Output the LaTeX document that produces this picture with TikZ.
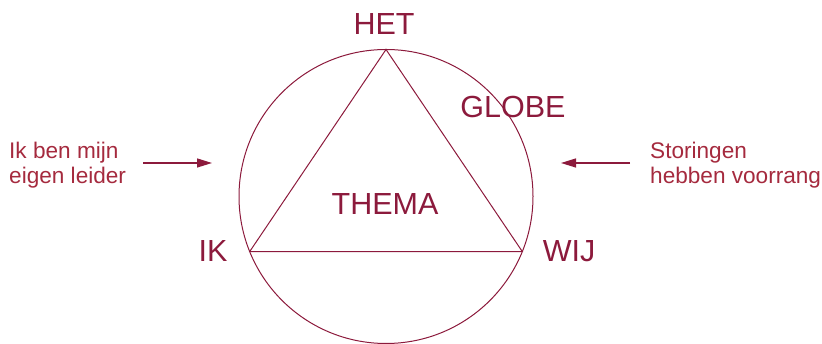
\documentclass[tikz,border=0pt]{standalone}
\usepackage{fontspec}
\setmainfont{Liberation Sans}
\usetikzlibrary{arrows.meta,calc}
\definecolor{bordeaux}{HTML}{8C1A3C}
\definecolor{rood}{HTML}{A52A3E}
\begin{document}
\begin{tikzpicture}[x=1pt, y=1pt,
			lijn/.style={line width=1pt, bordeaux},
			pijl/.style={-{Triangle[length=15pt, width=9pt]}, line width=1.3pt, bordeaux},
			groot/.style={anchor=base, inner sep=0pt, text=bordeaux,
				font=\fontsize{30.5}{30}\selectfont},
			zijtekst/.style={anchor=base west, inner sep=0pt, text=rood, align=left,
				font=\fontsize{22.6}{25}\selectfont}]
			
			\useasboundingbox (0,0) rectangle (822,344);
			
			%% --- globe en hoekpunten van de driehoek ---
			\coordinate (M) at (386,147.5);
			\def\r{147}
			\coordinate (het) at ($(M)+(90:\r)$);
			\coordinate (ik)  at ($(M)+(202:\r)$);
			\coordinate (wij) at ($(M)+(-22:\r)$);
			
			\draw[lijn] (M) circle (\r);
			\draw[lijn, line join=miter] (het) -- (ik) -- (wij) -- cycle;
			
			%% --- labels ---
			\node[groot] (tHet)   at (384,309) {HET};
			\node[groot] (tGlobe) at (513,226) {GLOBE};
			\node[groot] (tThema) at (385,129) {THEMA};
			\node[groot] (tIk)    at (213,82)  {IK};
			\node[groot] (tWij)   at (569,82)  {WIJ};
			
			%% --- zijteksten met pijlen (base = laatste regel) ---
			\node[zijtekst] (links) at (9,160) {Ik ben mijn\\eigen leider};
			\node[zijtekst] (rechts) at (650,160) {Storingen\\hebben voorrang};
			
			\coordinate (pL1) at (143,181);
			\coordinate (pL2) at (212,181);
			\coordinate (pR1) at (630,181);
			\coordinate (pR2) at (561,181);
			\draw[pijl] (pL1) -- (pL2);
			\draw[pijl] (pR1) -- (pR2);
			
		\end{tikzpicture}
\end{document}
